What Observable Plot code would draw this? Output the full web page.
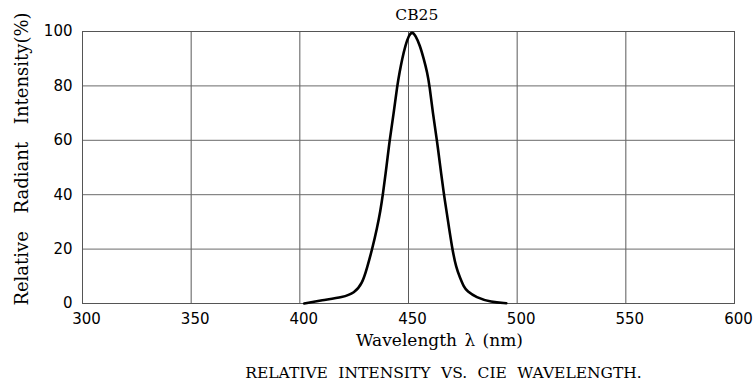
<!DOCTYPE html>
<html>
<head>
<meta charset="utf-8">
<script src="https://cdn.jsdelivr.net/npm/d3@7"></script>
<script src="https://cdn.jsdelivr.net/npm/@observablehq/plot@0.6"></script>
<style>
  html, body { margin: 0; padding: 0; background: #fff; }
</style>
</head>
<body>
<div id="chart"></div>
<script>
// Wavelength (nm) and relative radiant intensity (%)
const wavelength = [402, 410, 420, 425, 428.7, 431, 433.3, 435.6, 437.1, 438.2, 440, 441.3, 443.2, 444.8, 445.9, 447.1, 448.6, 450.1, 451.7, 453.2, 455.2, 457, 458.6, 459.7, 461.2, 463.1, 464.5, 466.3, 467.5, 470.1, 472, 473.6, 475.5, 477, 481, 488, 495];
const intensity  = [0,   1.2, 2.3, 3.8, 7.2,   13.3, 20,   28,    34.2,  40,    51,  60,    70,    80,    85,    90,    95,    98.5,  100,   98.5,  95,    90,  85,    80,    70,    60,    51,    40,    34,    20,    13,  9.7,   6,     4.5, 2.3, 0.5, 0.1];
const xTicks = [300, 350, 400, 450, 500, 550, 600];
const yTicks = [0, 20, 40, 60, 80, 100];
const seriesName = "CB25";
const xLabel = "Wavelength λ (nm)";
const yLabel = "Relative Radiant Intensity(%)";
const caption = "RELATIVE INTENSITY VS. CIE WAVELENGTH.";

const data = wavelength.map((w, i) => ({w, v: intensity[i]}));
const peak = data.reduce((a, b) => (b.v > a.v ? b : a));

const serif = "DejaVu Serif";
const chart = Plot.plot({
  width: 754,
  height: 387,
  marginLeft: 82,
  marginRight: 20,
  marginTop: 31,
  marginBottom: 84,
  style: {fontFamily: "DejaVu Sans", fontSize: "15px", color: "#000", background: "#fff"},
  x: {domain: [300, 600], ticks: xTicks, label: null},
  y: {domain: [0, 100], ticks: yTicks, label: null},
  marks: [
    Plot.gridX(xTicks, {stroke: "#5a5a5a", strokeOpacity: 1, strokeWidth: 1}),
    Plot.gridY(yTicks, {stroke: "#6a6a6a", strokeOpacity: 1, strokeWidth: 1}),
    Plot.frame({stroke: "#555", strokeWidth: 1}),
    Plot.axisX({ticks: xTicks, tickSize: 0, tickPadding: 10, dx: 4, fontSize: 15, label: null}),
    Plot.axisY({ticks: yTicks, tickSize: 0, tickPadding: 10, fontSize: 15, label: null}),
    Plot.line(data, {x: "w", y: "v", stroke: "#000", strokeWidth: 2.6, curve: "basis"}),
    Plot.text([peak], {x: "w", y: "v", text: () => seriesName, dx: 4.6, dy: -16, fontFamily: serif, fontSize: 15.5, fill: "#000"}),
    Plot.text([xLabel], {frameAnchor: "bottom", text: d => d, dx: 31, dy: 42, fontFamily: serif, fontSize: 17, fill: "#000"}),
    Plot.text([caption], {frameAnchor: "bottom", text: d => d, dx: 35, dy: 74, fontFamily: serif, fontSize: 15.5, fill: "#000"}),
    Plot.text([yLabel], {frameAnchor: "left", textAnchor: "middle", text: d => d, rotate: -90, dx: -60, dy: -8.5, fontFamily: serif, fontSize: 18, fill: "#000"})
  ]
});
d3.select(chart).selectAll("text").each(function() {
  const t = this.textContent;
  if (t === caption) this.style.wordSpacing = "5.5px";
  if (t === yLabel) this.style.wordSpacing = "12px";
  if (t === xLabel) this.style.wordSpacing = "2px";
});
document.getElementById("chart").appendChild(chart);
</script>
</body>
</html>
